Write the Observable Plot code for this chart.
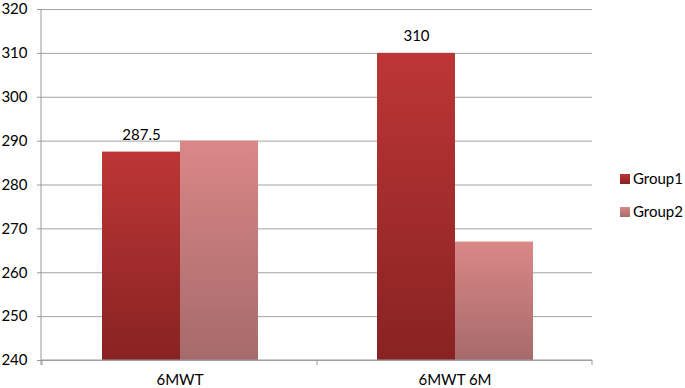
<!DOCTYPE html>
<html>
<head>
<meta charset="utf-8">
<script src="https://cdn.jsdelivr.net/npm/d3@7"></script>
<script src="https://cdn.jsdelivr.net/npm/@observablehq/plot@0.6"></script>
<style>
  html, body { margin: 0; padding: 0; background: #fff; }
  #chart { width: 685px; height: 388px; }
</style>
</head>
<body>
<div id="chart"></div>
<script>
const categories = ["6MWT", "6MWT 6M"];
const groups = ["Group1", "Group2"];
const group1Values = [287.5, 310];
const group2Values = [290, 267];
const yTicks = [240, 250, 260, 270, 280, 290, 300, 310, 320];
const yDomain = [240, 320];
const gradientTop = ["#bd3636", "#da8787"];
const gradientBottom = ["#882222", "#a66a6a"];

const data = [];
categories.forEach((c, i) => {
  data.push({cat: c, group: groups[0], value: group1Values[i]});
  data.push({cat: c, group: groups[1], value: group2Values[i]});
});

const font = "Lato, 'Open Sans', sans-serif";

const chart = Plot.plot({
  width: 685,
  height: 388,
  marginLeft: 41,
  marginRight: 93,
  marginTop: 9,
  marginBottom: 28,
  style: {fontFamily: font, fontSize: "15px", color: "#000", background: "#fff"},
  fx: {domain: categories, padding: 0, label: null, tickSize: 0, tickPadding: 14},
  x: {domain: groups, axis: null, paddingInner: 0, paddingOuter: 0.744},
  y: {domain: yDomain, ticks: yTicks, tickSize: 5, tickPadding: 10, label: null, line: false},
  marks: [
    Plot.ruleY(yTicks, {stroke: "#a3a3a3", strokeWidth: 1}),
    Plot.barY(data.filter(d => d.group === groups[0]), {fx: "cat", x: "group", y1: yDomain[0], y2: "value", fill: "url(#grad0)"}),
    Plot.barY(data.filter(d => d.group === groups[1]), {fx: "cat", x: "group", y1: yDomain[0], y2: "value", fill: "url(#grad1)"}),
    Plot.text(data.filter(d => d.group === groups[0]), {fx: "cat", x: "group", y: "value", text: d => String(d.value), dy: -17, fontSize: 15, fill: "#000"})
  ]
});

document.getElementById("chart").appendChild(chart);

const svg = d3.select(chart);
const defs = svg.insert("defs", ":first-child");
groups.forEach((g, i) => {
  const lg = defs.append("linearGradient").attr("id", "grad" + i)
    .attr("x1", 0).attr("y1", 0).attr("x2", 0).attr("y2", 1);
  lg.append("stop").attr("offset", "0%").attr("stop-color", gradientTop[i]);
  lg.append("stop").attr("offset", "100%").attr("stop-color", gradientBottom[i]);
});

// axis lines and boundary ticks
const fxS = chart.scale("fx");
const yS = chart.scale("y");
const y0 = yS.apply(yDomain[0]);
const y1 = yS.apply(yDomain[1]);
const xl = fxS.range[0], xr = fxS.range[1];
const axisColor = "#9a9a9a";
svg.append("line").attr("x1", xl).attr("x2", xl).attr("y1", y1).attr("y2", y0 + 5)
  .attr("stroke", axisColor);
svg.append("line").attr("x1", xl).attr("x2", xr).attr("y1", y0).attr("y2", y0)
  .attr("stroke", axisColor);
const bounds = categories.map(c => fxS.apply(c)).concat([xr]);
bounds.forEach(b => {
  svg.append("line").attr("x1", b).attr("x2", b).attr("y1", y0).attr("y2", y0 + 5)
    .attr("stroke", axisColor);
});
svg.selectAll("[aria-label='y-axis tick'] path, [aria-label='y-axis tick'] line").attr("stroke", axisColor);

// legend
const legend = svg.append("g").attr("font-family", font).attr("font-size", 15).attr("text-anchor", "start");
groups.forEach((g, i) => {
  const cy = 179 + i * 33;
  legend.append("rect").attr("x", 620).attr("y", cy - 5).attr("width", 10).attr("height", 10)
    .attr("fill", "url(#grad" + i + ")");
  legend.append("text").attr("x", 633).attr("y", cy).attr("dy", "0.36em").attr("fill", "#000").text(g);
});
</script>
</body>
</html>
